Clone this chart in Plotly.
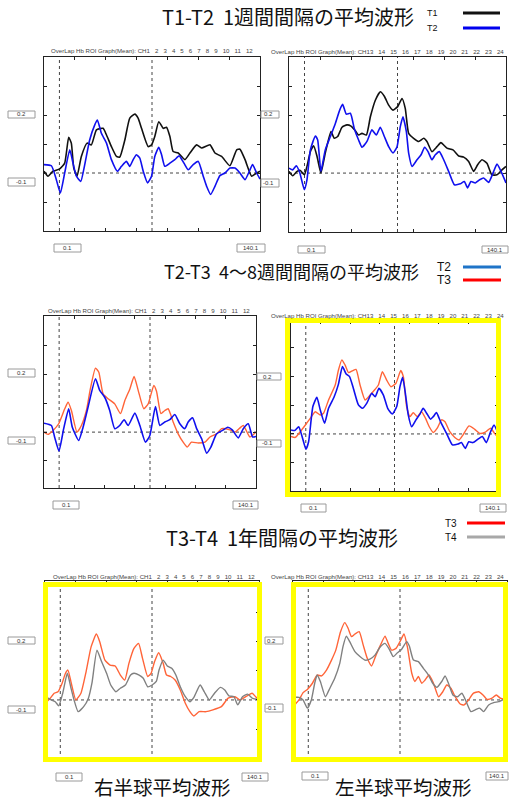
import plotly.graph_objects as go

W, H = 509, 800

# ---------------- data (time in s, value in mM·mm) ----------------
p1_t1_t = [0, 2.6, 5.8, 10.2, 13.4, 16, 17.7, 19.3, 21.4, 24.2, 27.9, 30.7, 34, 38.3, 40.5, 43.7, 47, 49.1, 52.4, 55.6, 58.9, 61, 63.2, 67.5, 69.7, 71.8, 74.4, 77.3, 79.4, 81.6, 83.7, 87, 91.3, 94.6, 98.9, 102.1, 107.6, 110.8, 115.1, 120.5, 124.9, 127, 130.3, 134.6, 137.8, 140]
p1_t1_v = [0.006, -0.011, 0.006, 0.014, 0.034, 0.123, 0.103, 0.017, -0.011, 0.057, 0.103, 0.097, 0.149, 0.154, 0.131, 0.091, 0.057, 0.055, 0.114, 0.189, 0.203, 0.189, 0.154, 0.091, 0.097, 0.126, 0.177, 0.154, 0.158, 0.126, 0.074, 0.069, 0.046, 0.069, 0.097, 0.086, 0.097, 0.069, 0.057, 0.025, 0.080, 0.082, 0.046, -0.011, 0.0, 0.006]
p1_t2_t = [0, 4.8, 8, 10.6, 13.4, 16.7, 18.8, 21, 23.8, 26.4, 29.6, 32.9, 34.6, 37.2, 40.5, 43.7, 47.6, 50.2, 53.4, 55.6, 57.8, 59.9, 62.1, 64.3, 67.1, 69.7, 71.8, 74.4, 76.2, 78.3, 81.6, 84.8, 87.6, 90.7, 93.5, 96.7, 100, 103.2, 105.4, 108, 110.8, 114, 117.3, 120.5, 123.8, 127, 130.3, 133.1, 135.2, 137.8, 140]
p1_t2_v = [0.029, 0.025, -0.023, -0.069, 0.0, 0.08, 0.034, -0.011, -0.029, 0.029, 0.114, 0.166, 0.183, 0.137, 0.103, 0.046, 0.006, 0.023, 0.04, 0.023, 0.046, 0.063, 0.051, 0.006, -0.034, -0.011, 0.057, 0.089, 0.063, 0.023, 0.034, 0.046, 0.059, 0.034, 0.011, 0.029, 0.04, -0.011, -0.046, -0.074, -0.046, -0.009, 0.0, 0.017, 0.017, 0.0, -0.023, 0.006, 0.029, 0.0, -0.021]

p2_t1_t = [0, 2.4, 5.2, 7.3, 9.9, 11.6, 13.8, 15.9, 18.1, 20.6, 23.4, 27.1, 29.2, 31.4, 34.2, 37.4, 40, 42.8, 44.9, 47.1, 49.9, 52.5, 55.7, 58.9, 61.5, 64.3, 67.1, 70.1, 72.9, 75, 77.2, 80.4, 83.7, 86.9, 89, 92.2, 95.5, 98, 101.9, 105.8, 109.5, 112.7, 115.9, 119.1, 121.7, 124.5, 127.7, 130.9, 134.2, 137.4, 140]
p2_t1_v = [0.006, -0.009, 0.006, 0.009, -0.006, 0.023, 0.074, 0.094, 0.057, 0.0, 0.069, 0.143, 0.12, 0.126, 0.158, 0.166, 0.162, 0.146, 0.131, 0.137, 0.131, 0.194, 0.251, 0.28, 0.265, 0.234, 0.217, 0.229, 0.257, 0.223, 0.137, 0.12, 0.109, 0.12, 0.109, 0.074, 0.091, 0.105, 0.086, 0.08, 0.059, 0.055, 0.04, 0.006, 0.029, 0.046, 0.034, -0.006, -0.006, 0.011, 0.023]
p2_t2_t = [0, 2.4, 4.7, 6.9, 9.9, 11.6, 13.8, 17, 18.5, 20.6, 23.4, 26.7, 29.9, 32.7, 34.6, 37, 39.6, 42.1, 44.9, 47.1, 50.3, 53.5, 56.3, 58.9, 61.5, 64.3, 67.1, 69.7, 71.8, 73.5, 75.7, 77.2, 79.4, 82.6, 85.2, 87.5, 89.7, 92.2, 94.4, 97, 99.8, 103, 106.7, 110.5, 113.1, 115.2, 117.4, 120.2, 123, 125.6, 128.8, 131.6, 134.2, 136.8, 140]
p2_t2_v = [0.017, 0.011, 0.025, 0.002, -0.057, -0.023, 0.08, 0.128, 0.114, 0.006, 0.08, 0.126, 0.171, 0.217, 0.237, 0.203, 0.206, 0.154, 0.114, 0.089, 0.109, 0.149, 0.131, 0.158, 0.126, 0.091, 0.069, 0.091, 0.16, 0.194, 0.143, 0.069, 0.023, 0.046, 0.063, 0.089, 0.074, 0.046, 0.063, 0.074, 0.046, 0.006, -0.04, -0.037, -0.029, -0.051, -0.029, -0.034, -0.023, -0.017, -0.032, 0.0, 0.031, 0.006, -0.034]

p3_t3_t = [0, 2.6, 6, 9.7, 13.7, 15.9, 18.1, 21.8, 24.7, 28, 30.6, 34, 36.2, 39, 42.3, 46.7, 50.5, 53.4, 56.7, 59.5, 62.2, 65.9, 68.8, 72.5, 74.3, 77.2, 79.8, 82, 85.3, 88.6, 91.9, 94.6, 97.4, 101.9, 106.3, 109.6, 114, 117.3, 122.8, 126.1, 131.6, 136, 140]
p3_t3_v = [0.0, -0.008, 0.006, 0.029, 0.081, 0.104, 0.075, 0.0, 0.023, 0.075, 0.15, 0.222, 0.208, 0.133, 0.116, 0.098, 0.064, 0.11, 0.15, 0.193, 0.145, 0.081, 0.098, 0.162, 0.142, 0.064, 0.075, 0.081, 0.035, -0.006, -0.035, -0.052, -0.035, -0.038, -0.035, -0.017, -0.006, 0.012, 0.008, 0.0, 0.023, -0.017, 0.0]
p3_t2_t = [0, 4.9, 7, 9.9, 13, 16.3, 18.7, 22.9, 25.8, 29.1, 34, 36.8, 40.1, 43.4, 46.7, 50, 52.9, 55.6, 60, 63.3, 67, 69.9, 73.6, 76.5, 79.8, 83.1, 86.4, 89.7, 93, 95.2, 98.1, 100.8, 104.1, 107.4, 110.2, 114, 117.9, 121.3, 124.3, 128.3, 131.6, 134.9, 137.8, 140]
p3_t2_v = [0.031, 0.023, -0.017, -0.066, 0.012, 0.081, 0.017, -0.029, 0.017, 0.087, 0.185, 0.145, 0.121, 0.075, 0.012, 0.023, 0.043, 0.023, 0.066, 0.023, -0.035, -0.012, 0.089, 0.023, 0.035, 0.043, 0.061, 0.029, 0.012, 0.035, 0.05, 0.012, -0.023, -0.073, -0.052, -0.006, 0.006, 0.017, 0.008, -0.02, 0.012, 0.029, -0.017, -0.015]

p4_t3_t = [0, 2.9, 6.3, 9.7, 13, 16.4, 19.8, 22, 25.4, 29.9, 32.1, 34.4, 36.6, 38.9, 41.8, 44, 46.7, 50.1, 53.5, 56.9, 59.1, 61.8, 64.7, 67.6, 71, 74.2, 76, 78.2, 80.4, 82.7, 85.4, 88.3, 91, 93.5, 96.2, 98.9, 101.8, 104, 107.4, 110.8, 113.7, 116.4, 120.4, 124.3, 127.6, 131, 135, 137.7, 140]
p4_t3_v = [-0.009, -0.012, 0.008, 0.031, 0.054, 0.077, 0.066, 0.072, 0.118, 0.17, 0.222, 0.257, 0.239, 0.213, 0.22, 0.224, 0.17, 0.118, 0.135, 0.155, 0.17, 0.216, 0.187, 0.164, 0.176, 0.22, 0.199, 0.095, 0.06, 0.074, 0.06, 0.077, 0.054, 0.025, 0.005, 0.02, 0.049, 0.043, 0.008, -0.012, -0.021, -0.003, 0.028, 0.016, 0.002, 0.005, 0.02, 0.002, -0.012]
p4_t2_t = [0, 2.5, 5.2, 7.4, 10.1, 11.9, 14.8, 17.5, 19.8, 22.7, 25.4, 29.2, 32.1, 34.8, 37.3, 39.6, 42.2, 45.6, 48.3, 51.2, 54.6, 56.9, 59.5, 62.5, 65.4, 68.5, 71.5, 73.7, 75.5, 77.5, 79.3, 81.6, 84.5, 87.2, 89.4, 91.7, 94.4, 96.2, 98.4, 101.1, 105.2, 109.2, 113, 115.3, 117.9, 120.2, 123.1, 126.5, 129.4, 132.1, 135, 137.3, 140]
p4_t2_v = [0.014, 0.012, 0.025, -0.007, -0.053, -0.027, 0.095, 0.127, 0.083, 0.037, 0.089, 0.129, 0.173, 0.234, 0.208, 0.199, 0.158, 0.101, 0.089, 0.106, 0.141, 0.129, 0.158, 0.135, 0.089, 0.069, 0.095, 0.164, 0.197, 0.135, 0.066, 0.025, 0.049, 0.069, 0.089, 0.072, 0.051, 0.06, 0.074, 0.043, 0.002, -0.038, -0.035, -0.03, -0.05, -0.027, -0.03, -0.018, -0.009, -0.03, 0.008, 0.031, 0.002]

p5_t3_t = [0, 3.4, 6, 8.5, 11.2, 13.4, 15, 17.2, 20.2, 23.5, 26.9, 30.2, 33.6, 35.8, 39.2, 42.6, 45.9, 49.3, 52.2, 54.9, 58.2, 61.2, 63.8, 67.2, 69.4, 71.7, 74.4, 77.3, 79.5, 82.2, 85.1, 88.5, 91.8, 94.8, 97.4, 100.8, 105.3, 109.8, 115.4, 119.8, 124.3, 127.7, 132.2, 135.5, 137.8, 140]
p5_t3_v = [-0.011, 0.006, 0.023, 0.028, 0.057, 0.091, 0.102, 0.057, 0.0, 0.023, 0.097, 0.182, 0.225, 0.199, 0.136, 0.119, 0.116, 0.085, 0.068, 0.125, 0.176, 0.193, 0.142, 0.08, 0.091, 0.131, 0.161, 0.125, 0.085, 0.08, 0.068, 0.034, -0.011, -0.04, -0.055, -0.04, -0.04, -0.034, -0.023, 0.006, 0.011, 0.0, 0.014, 0.023, 0.011, 0.0]
p5_t4_t = [0, 3.4, 6.7, 9, 11.6, 14.6, 16.8, 19, 21.7, 25.3, 28.4, 30.7, 34, 37, 40.3, 43, 46.4, 49.3, 52.6, 56, 58.2, 61.6, 64.3, 67.2, 70.1, 72.8, 74.6, 77.3, 80, 82.9, 85.6, 88.5, 91.8, 94.8, 97.4, 101.5, 104.2, 107.5, 110.9, 114.7, 117.6, 120.3, 123.6, 126.1, 129.2, 132.6, 135.5, 140]
p5_t4_v = [0.011, 0.002, -0.006, -0.02, 0.023, 0.091, 0.045, 0.0, -0.04, -0.023, 0.006, 0.057, 0.17, 0.131, 0.091, 0.051, 0.028, 0.04, 0.051, 0.085, 0.091, 0.085, 0.074, 0.045, 0.051, 0.063, 0.102, 0.136, 0.116, 0.108, 0.085, 0.045, 0.011, -0.006, 0.009, 0.051, 0.028, 0.0, 0.023, 0.043, 0.034, 0.014, 0.011, -0.017, 0.011, 0.02, 0.006, 0.0]

p6_t3_t = [1.1, 3.9, 6.6, 9.4, 12.7, 15.8, 18.6, 21.9, 25.2, 28, 31.1, 33.9, 36.1, 38.3, 40.5, 43.3, 45.9, 48.6, 51.4, 54.3, 57.3, 60.2, 62.3, 64.5, 67.4, 70, 72.6, 74.8, 77.7, 79.8, 82, 84.2, 86.4, 89, 91.9, 95.2, 98, 100.6, 103.3, 106.1, 109.4, 112, 114.8, 118.1, 121.4, 124.3, 126.9, 130.2, 133, 135.6, 138.9]
p6_t3_v = [-0.017, 0.0, 0.025, 0.036, 0.057, 0.085, 0.082, 0.102, 0.136, 0.17, 0.233, 0.264, 0.244, 0.216, 0.225, 0.233, 0.188, 0.142, 0.116, 0.153, 0.188, 0.218, 0.193, 0.17, 0.176, 0.199, 0.225, 0.182, 0.091, 0.063, 0.08, 0.057, 0.068, 0.085, 0.057, 0.011, 0.028, 0.051, 0.04, 0.011, -0.014, -0.017, 0.0, 0.023, 0.028, 0.017, 0.002, 0.006, 0.017, 0.006, 0.0]
p6_t4_t = [1.1, 3.9, 6.6, 9.4, 12, 14.2, 15.8, 17.9, 21.2, 24.1, 27.3, 30.6, 32.7, 34.9, 37.1, 40.5, 43.8, 47, 50.3, 53.6, 56.9, 60.2, 63, 65.6, 68.3, 71.1, 74.4, 76.1, 78.8, 82, 85.3, 88.6, 91.4, 94.1, 97.3, 99.5, 101.7, 104.6, 107.6, 110.5, 113.3, 116.4, 119.2, 122.1, 124.7, 128, 131.3, 134.5, 137.8]
p6_t4_v = [0.009, 0.009, 0.0, -0.028, 0.0, 0.057, 0.085, 0.063, 0.011, 0.04, 0.074, 0.125, 0.182, 0.218, 0.199, 0.165, 0.148, 0.136, 0.139, 0.153, 0.18, 0.193, 0.173, 0.148, 0.161, 0.173, 0.199, 0.184, 0.136, 0.131, 0.108, 0.085, 0.057, 0.043, 0.063, 0.082, 0.057, 0.017, 0.011, 0.023, -0.006, -0.04, -0.034, -0.028, -0.04, -0.017, -0.009, -0.006, 0.002]

task_marks = [10, 70]
ch_left = "OverLap Hb ROI Graph(Mean): CH1 \u00a0 2 \u00a0 3 \u00a0 4 \u00a0 5 \u00a0 6 \u00a0 7 \u00a0 8 \u00a0 9 \u00a0 10 \u00a0 11 \u00a0 12"
ch_right = "OverLap Hb ROI Graph(Mean): CH13 \u00a0 14 \u00a0 15 \u00a0 16 \u00a0 17 \u00a0 18 \u00a0 19 \u00a0 20 \u00a0 21 \u00a0 22 \u00a0 23 \u00a0 24"

C_BLACK = "#111111"
C_BLUE = "#1010ee"
C_ORANGE = "#ff6438"
C_GRAY = "#808080"

# ---------------- helpers ----------------
def px(x):
    return x / W

def py(y):
    return 1 - y / H

fig = go.Figure()
shapes = []
annots = []

# panel geometry: (x0, x1, ytop, ybot, yrange)
panels = [
    (44, 260, 57, 231, [-0.200, 0.400]),
    (289, 506, 57, 232, [-0.203, 0.400]),
    (44, 256, 316, 488, [-0.194, 0.403]),
    (291, 498, 321, 491, [-0.198, 0.392]),
    (45, 259, 581, 760, [-0.205, 0.406]),
    (293, 507, 581, 760, [-0.205, 0.406]),
]
series = [
    [(p1_t1_t, p1_t1_v, C_BLACK, 1.6), (p1_t2_t, p1_t2_v, C_BLUE, 1.6)],
    [(p2_t1_t, p2_t1_v, C_BLACK, 1.6), (p2_t2_t, p2_t2_v, C_BLUE, 1.6)],
    [(p3_t3_t, p3_t3_v, C_ORANGE, 1.4), (p3_t2_t, p3_t2_v, C_BLUE, 1.6)],
    [(p4_t3_t, p4_t3_v, C_ORANGE, 1.4), (p4_t2_t, p4_t2_v, C_BLUE, 1.6)],
    [(p5_t3_t, p5_t3_v, C_ORANGE, 1.4), (p5_t4_t, p5_t4_v, C_GRAY, 1.4)],
    [(p6_t3_t, p6_t3_v, C_ORANGE, 1.4), (p6_t4_t, p6_t4_v, C_GRAY, 1.4)],
]

layout_axes = {}
for i, (x0, x1, yt, yb, yr) in enumerate(panels):
    n = i + 1
    xa = "xaxis" if n == 1 else f"xaxis{n}"
    ya = "yaxis" if n == 1 else f"yaxis{n}"
    xr = "x" if n == 1 else f"x{n}"
    yrf = "y" if n == 1 else f"y{n}"
    common = dict(showline=True, linecolor="#222", linewidth=1, mirror="ticks",
                  ticks="inside", ticklen=3, tickcolor="#222", showticklabels=False,
                  showgrid=False, zeroline=False, fixedrange=True)
    layout_axes[xa] = dict(domain=[px(x0), px(x1)], range=[0, 140], tick0=0, dtick=20,
                           anchor=yrf, **common)
    layout_axes[ya] = dict(domain=[py(yb), py(yt)], range=yr, tick0=0, dtick=0.1,
                           anchor=xr, **common)
    # dotted reference lines
    for tm in task_marks:
        shapes.append(dict(type="line", xref=xr, yref=f"{yrf} domain", x0=tm, x1=tm, y0=0, y1=1,
                           line=dict(color="#444", width=1, dash="dot"), layer="below"))
    shapes.append(dict(type="line", xref=f"{xr} domain", yref=yrf, x0=0, x1=1, y0=0, y1=0,
                       line=dict(color="#444", width=1, dash="dot"), layer="below"))
    for (t, v, c, w) in series[i]:
        fig.add_trace(go.Scatter(x=t, y=v, mode="lines", xaxis=xr, yaxis=yrf,
                                 line=dict(color=c, width=w, shape="spline", smoothing=0.5),
                                 showlegend=False, hoverinfo="skip"))

# yellow highlight frames
for (a, b, c, d) in [(285, 501, 318, 497), (43, 262, 582, 762), (291, 508, 582, 762)]:
    shapes.append(dict(type="rect", xref="paper", yref="paper",
                       x0=px(a + 2.5), x1=px(b - 2.5), y0=py(d - 2.5), y1=py(c + 2.5),
                       line=dict(color="#ffff00", width=5), layer="above"))

# small label boxes from the measurement software
def box(x0, x1, y0, y1, text, tx=None):
    shapes.append(dict(type="rect", xref="paper", yref="paper",
                       x0=px(x0), x1=px(x1), y0=py(y1), y1=py(y0),
                       line=dict(color="#9a9a9a", width=1), fillcolor="white", layer="above"))
    annots.append(dict(x=px(tx if tx is not None else (x0 + x1) / 2), y=py((y0 + y1) / 2),
                       xref="paper", yref="paper", text=text, showarrow=False,
                       xanchor="center", yanchor="middle",
                       font=dict(family="Liberation Sans", size=6, color="#333")))

box(8, 35, 111, 118, "0.2"); box(8, 35, 178, 186, "-0.1")
box(54, 81, 244, 252, "0.1"); box(237, 265, 244, 252, "140.1")
box(261, 279, 111, 118, "0.2", 268); box(261, 279, 179, 187, "-0.1", 268)
box(298, 325, 246, 253, "0.1"); box(482, 508, 246, 253, "140.1")

box(8, 35, 369, 377, "0.2"); box(8, 35, 437, 444, "-0.1")
box(53, 79, 501, 509, "0.1"); box(233, 258, 501, 509, "140.1")
box(257, 281, 373, 380, "0.2", 267); box(257, 281, 440, 447, "-0.1", 267)
box(301, 326, 504, 512, "0.1"); box(480, 506, 504, 512, "140.1")

box(8, 35, 637, 644, "0.2"); box(8, 35, 706, 713, "-0.1")
box(56, 82, 773, 781, "0.1"); box(242, 268, 773, 781, "140.1")
box(265, 283, 637, 644, "0.2", 271); box(265, 283, 704, 712, "-0.1", 271)
box(302, 328, 772, 780, "0.1"); box(486, 508, 772, 780, "140.1")

# channel header text above each panel
for (xc, yc, txt, anc) in [(152, 51, ch_left, "center"), (506, 52, ch_right, "right"),
                           (149, 311, ch_left, "center"), (506, 315, ch_right, "right"),
                           (154, 576, ch_left, "center"), (506, 576, ch_right, "right")]:
    annots.append(dict(x=px(xc), y=py(yc), xref="paper", yref="paper", text=txt, showarrow=False,
                       xanchor=anc, yanchor="middle",
                       font=dict(family="Liberation Sans", size=6.1, color="#444")))

JP = "Noto Sans CJK JP"
NB = "\u00a0\u00a0"
for (xc, yc, txt, fs) in [(288, 17, "T1-T2" + NB + "1週間間隔の平均波形", 20),
                          (291, 271, "T2-T3" + NB + "4～8週間間隔の平均波形", 18),
                          (282, 537, "T3-T4" + NB + "1年間隔の平均波形", 20)]:
    annots.append(dict(x=px(xc), y=py(yc), xref="paper", yref="paper", text=txt, showarrow=False,
                       xanchor="center", yanchor="middle", font=dict(family=JP, size=fs, color="#111")))
for (xc, yc, txt) in [(162, 786, "右半球平均波形"), (403, 786, "左半球平均波形")]:
    annots.append(dict(x=px(xc), y=py(yc), xref="paper", yref="paper", text=txt, showarrow=False,
                       xanchor="center", yanchor="middle", font=dict(family=JP, size=19.5, color="#111")))

# header legends
legends = [
    (432, 13, "T1", 9, 463, 500, C_BLACK),
    (432, 28, "T2", 9, 463, 500, "#0000ee"),
    (444, 267, "T2", 12, 463, 501, "#1f74c8"),
    (444, 280, "T3", 12, 463, 501, "#ff0000"),
    (451, 523, "T3", 10, 467, 505, "#ff0000"),
    (451, 537, "T4", 10, 467, 505, "#a8a8a8"),
]
for (xc, yc, txt, fs, lx0, lx1, col) in legends:
    annots.append(dict(x=px(xc), y=py(yc), xref="paper", yref="paper", text=txt, showarrow=False,
                       xanchor="center", yanchor="middle",
                       font=dict(family="Liberation Sans", size=fs, color="#111")))
    shapes.append(dict(type="line", xref="paper", yref="paper", x0=px(lx0), x1=px(lx1),
                       y0=py(yc), y1=py(yc), line=dict(color=col, width=3)))

fig.update_layout(width=W, height=H, autosize=False, margin=dict(l=0, r=0, t=0, b=0),
                  paper_bgcolor="white", plot_bgcolor="white", showlegend=False,
                  shapes=shapes, annotations=annots, **layout_axes)

fig.write_html("out.html", config={"displayModeBar": False},
               post_script="document.body.style.margin='0';document.body.style.padding='0';"
                           "document.body.style.overflow='hidden';")
